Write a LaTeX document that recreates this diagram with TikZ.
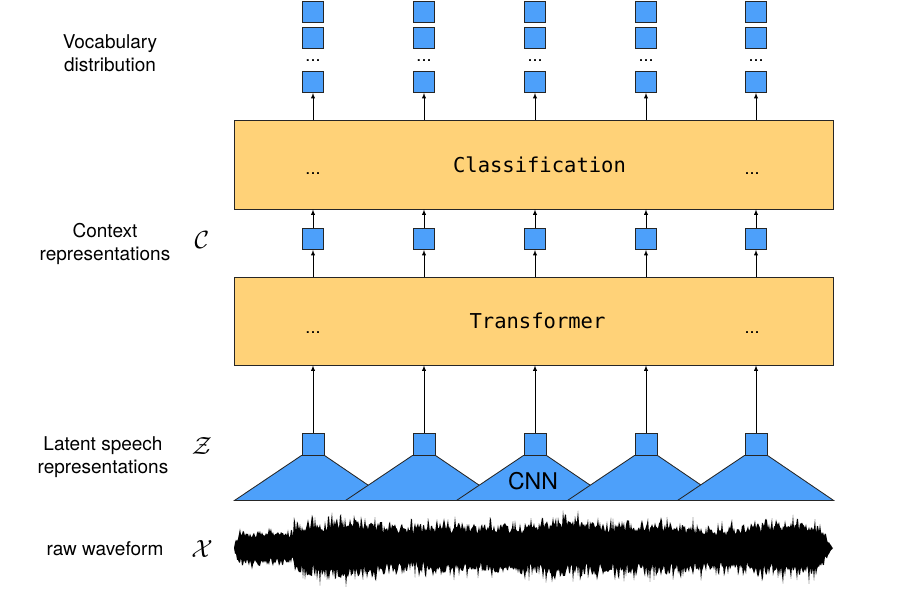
\documentclass[tikz,border=0pt]{standalone}
\usepackage{fontspec}
\setmainfont{TeX Gyre Heros}
\setmonofont{DejaVu Sans Mono}
\usetikzlibrary{arrows}
\definecolor{unitblue}{RGB}{77,160,250}
\definecolor{layeryellow}{RGB}{255,210,120}

\begin{document}
\begin{tikzpicture}[x=1pt,y=-1pt,line width=0.85pt,
unit/.style={draw=black!85,fill=unitblue,minimum size=21pt,inner sep=0pt},
layer/.style={draw=black!85,fill=layeryellow,minimum width=599pt,inner sep=0pt},
layername/.style={font=\ttfamily\fontsize{20.5}{24}\selectfont,inner sep=0pt},
side/.style={align=center,font=\fontsize{19}{23.5}\selectfont,inner sep=0pt},
sym/.style={font=\fontsize{26}{26}\selectfont,inner sep=0pt},
dots/.style={font=\fontsize{18}{20}\selectfont,inner sep=0pt,anchor=base},
declare function={wenv(\x)=(\x<240)?(6+2.5*(\x-234)):((\x<294)?20:((\x<818)?(31+3*sin(1.4*\x)+2*sin(3.3*\x+40)):(2*(833-\x))));}]
\useasboundingbox (0,0) rectangle (897,602);

\node[layer,minimum height=89pt] (cls) at (533.5,164.5) {};
\node[layer,minimum height=88pt] (trf) at (533.5,321) {};
\node[layername] at ([xshift=6]cls.center) {Classification};
\node[layername] at ([xshift=4]trf.center) {Transformer};
\node[dots] at (313,174) {...};
\node[dots] at (752,174) {...};
\node[dots] at (313,333) {...};
\node[dots] at (752,333) {...};

\foreach \x [count=\i] in {313,424,535,646,756}{
\node[unit] (va\i) at (\x,11.5) {};
\node[unit] (vb\i) at (\x,37.5) {};
\node[dots] at (\x,62) {...};
\node[unit] (vc\i) at (\x,82) {};
\node[unit] (c\i) at (\x,239) {};
\node[unit,minimum size=22pt] (z\i) at (\x,444) {};
\filldraw[fill=unitblue,draw=black!85] (z\i.south west) -- ++(-67,45) -- ++(156,0) -- (z\i.south east) -- cycle;
\draw[-latex] (vc\i |- cls.north) -- (vc\i);
\draw[-latex] (c\i |- trf.north) -- (c\i);
\draw[-latex] (c\i) -- (c\i |- cls.south);
\draw[-latex] (z\i) -- (z\i |- trf.south);
}
\node[font=\fontsize{23}{23}\selectfont,inner sep=0pt] (cnn) at (533,481) {CNN};

\pgfmathsetseed{7}
\fill (234,548) \foreach \x in {235,...,833}{ -- (\x,{548-wenv(\x)*(0.45+0.3*rnd+0.45*rnd*rnd)}) }
 \foreach \x in {833,...,235}{ -- (\x,{548+wenv(\x)*(0.45+0.3*rnd+0.5*rnd*rnd)}) } -- cycle;

\node[side] (vocab) at (110,53) {Vocabulary\\distribution};
\node[side] (ctx) at (105,244) {Context\\representations};
\node[side] (lat) at (103,457) {Latent speech\\representations};
\node[side] (raw) at (105,549) {raw waveform};
\node[sym] (csym) at (202,240) {$\mathcal{C}$};
\node[sym] (zsym) at (202,446) {$\mathcal{Z}$};
\node[sym] (xsym) at (202,549) {$\mathcal{X}$};
\end{tikzpicture}
\end{document}
